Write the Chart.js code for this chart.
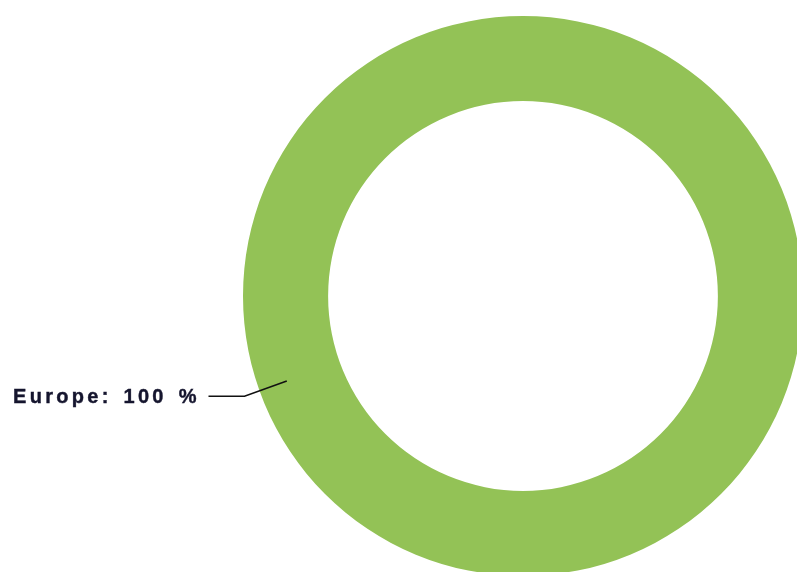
<!DOCTYPE html>
<html>
<head>
<meta charset="utf-8">
<script src="https://cdn.jsdelivr.net/npm/chart.js@4/dist/chart.umd.min.js"></script>
<style>
  html, body { margin: 0; padding: 0; background: #fff; overflow: hidden; }
  #wrap { position: absolute; left: 0; top: 0; width: 850px; height: 600px; }
</style>
</head>
<body>
<div id="wrap"><canvas id="doughnutChart" width="850" height="600"></canvas></div>
<script>
// data
var regions = ["Europe"];
var shares = [100];
var sliceColors = ["#93C256"];

// leader line + label drawn next to the slice
var sliceLabels = {
  id: "sliceLabels",
  afterDraw: function (chart) {
    var ctx = chart.ctx;
    var arc = chart.getDatasetMeta(0).data[0];
    var total = shares.reduce(function (a, b) { return a + b; }, 0);
    var ang = 160.2 * Math.PI / 180;
    var rIn = arc.innerRadius + (arc.outerRadius - arc.innerRadius) * 0.66;
    var rOut = arc.outerRadius + 16;
    var x1 = arc.x + Math.cos(ang) * rIn, y1 = arc.y + Math.sin(ang) * rIn;
    var x2 = arc.x + Math.cos(ang) * rOut, y2 = arc.y + Math.sin(ang) * rOut;
    var x3 = x2 - 36;

    ctx.save();
    ctx.strokeStyle = "#111";
    ctx.lineWidth = 1.6;
    ctx.beginPath();
    ctx.moveTo(x1, y1);
    ctx.lineTo(x2, y2);
    ctx.lineTo(x3, y2);
    ctx.stroke();

    ctx.fillStyle = "#15152e";
    ctx.strokeStyle = "#15152e";
    ctx.lineWidth = 0.4;
    ctx.font = "bold 20px 'Liberation Sans', Arial, sans-serif";
    ctx.letterSpacing = "3.3px";
    ctx.wordSpacing = "3px";
    ctx.textAlign = "left";
    ctx.textBaseline = "middle";
    var txt = regions[0] + ": " + Math.round(shares[0] / total * 100) + " %";
    ctx.fillText(txt, 13, y2 + 1);
    ctx.strokeText(txt, 13, y2 + 1);
    ctx.restore();
  }
};

var ctxD = document.getElementById("doughnutChart").getContext("2d");
var myChart = new Chart(ctxD, {
  type: "doughnut",
  data: {
    labels: regions,
    datasets: [
      {
        data: shares,
        backgroundColor: sliceColors,
        borderWidth: 0
      }
    ]
  },
  options: {
    responsive: false,
    animation: false,
    cutout: "69.6%",
    layout: { padding: { left: 243, top: 16, right: 47, bottom: 24 } },
    plugins: {
      legend: { display: false },
      tooltip: { enabled: false }
    }
  },
  plugins: [sliceLabels]
});
</script>
</body>
</html>
